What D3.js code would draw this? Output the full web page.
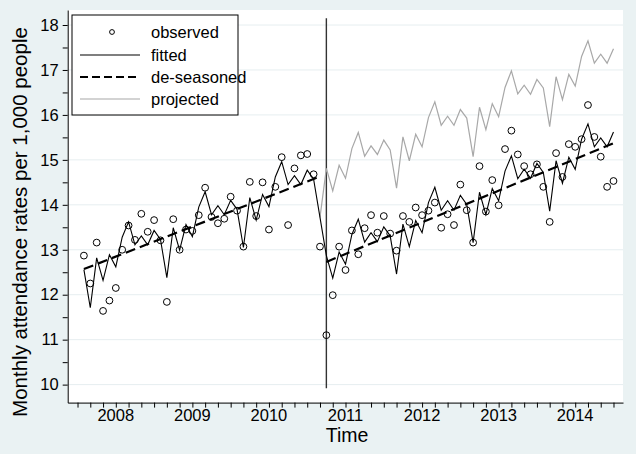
<!DOCTYPE html>
<html><head><meta charset="utf-8">
<script src="https://cdn.jsdelivr.net/npm/d3@7"></script>
<style>
body{margin:0;background:#eaf2f3;}
svg{display:block;font-family:"Liberation Sans",Arial,sans-serif;}
</style>
</head><body>
<svg id="chart" width="636" height="454"></svg>
<script>
// ---------- DATA ----------
const months = ["2007-08","2007-09","2007-10","2007-11","2007-12",
"2008-01","2008-02","2008-03","2008-04","2008-05","2008-06","2008-07","2008-08","2008-09","2008-10","2008-11","2008-12",
"2009-01","2009-02","2009-03","2009-04","2009-05","2009-06","2009-07","2009-08","2009-09","2009-10","2009-11","2009-12",
"2010-01","2010-02","2010-03","2010-04","2010-05","2010-06","2010-07","2010-08","2010-09","2010-10","2010-11","2010-12",
"2011-01","2011-02","2011-03","2011-04","2011-05","2011-06","2011-07","2011-08","2011-09","2011-10","2011-11","2011-12",
"2012-01","2012-02","2012-03","2012-04","2012-05","2012-06","2012-07","2012-08","2012-09","2012-10","2012-11","2012-12",
"2013-01","2013-02","2013-03","2013-04","2013-05","2013-06","2013-07","2013-08","2013-09","2013-10","2013-11","2013-12",
"2014-01","2014-02","2014-03","2014-04","2014-05","2014-06","2014-07"];

const observed = [12.87,12.25,13.16,11.64,11.87,
12.15,13.00,13.54,13.22,13.80,13.40,13.66,13.21,11.84,13.68,13.00,13.45,
13.42,13.77,14.38,13.73,13.59,13.69,14.18,13.87,13.07,14.51,13.75,14.50,
13.45,14.40,15.06,13.55,14.81,15.10,15.13,14.68,13.07,11.10,11.99,13.07,
12.55,13.43,12.90,13.48,13.77,13.38,13.75,13.36,12.98,13.75,13.62,13.94,
13.77,13.87,14.05,13.49,13.79,13.55,14.45,13.88,13.16,14.86,13.85,14.55,
13.99,15.24,15.65,15.12,14.86,14.68,14.90,14.40,13.62,15.15,14.62,15.35,
15.29,15.46,16.22,15.51,15.07,14.40,14.53];

const fitted = [12.56,11.71,12.82,12.32,12.89,
12.62,13.28,13.62,13.11,13.31,13.11,13.43,13.23,12.38,13.49,12.99,13.56,
13.29,13.95,14.29,13.78,13.98,13.78,14.10,13.90,13.05,14.16,13.66,14.23,
13.96,14.62,14.96,14.45,14.65,14.45,14.77,14.57,13.72,12.87,12.37,12.95,
12.68,13.34,13.68,13.17,13.38,13.18,13.51,13.31,12.46,13.57,13.07,13.65,
13.38,14.05,14.39,13.88,14.09,13.88,14.21,14.01,13.16,14.28,13.78,14.36,
14.09,14.75,15.09,14.58,14.79,14.59,14.92,14.72,13.86,14.98,14.48,15.06,
14.79,15.46,15.80,15.29,15.49,15.29,15.62];

// projected series starts at 2010-09
const projectedStart = "2010-09";
const projected = [13.72,14.81,14.31,14.88,14.59,15.25,15.61,15.08,15.31,15.12,15.44,15.22,14.37,
15.51,14.98,15.57,15.29,15.94,16.29,15.77,15.97,15.77,16.12,15.93,15.07,16.17,15.67,16.25,
15.96,16.61,16.98,16.47,16.66,16.46,16.79,16.60,15.74,16.85,16.34,16.90,
16.64,17.30,17.65,17.15,17.35,17.15,17.47];

// de-seasoned trend segments (before / after intervention)
const deseasonedPreMonths = ["2007-08","2010-09"];
const deseasonedPre = [12.57,14.63];
const deseasonedPostMonths = ["2010-10","2014-07"];
const deseasonedPost = [12.73,15.37];

const interventionMonth = "2010-10";
const yTicks = [10,11,12,13,14,15,16,17,18];
const yearLabels = ["2008","2009","2010","2011","2012","2013","2014"];
const legendLabels = ["observed","fitted","de-seasoned","projected"];

// ---------- CHART ----------
const svg = d3.select("#chart");
const P = {left:67.7, right:623, top:10, bottom:402.6};
const mIdx = s => { const [yy,mm] = s.split("-").map(Number); return (yy-2007)*12 + (mm-7); };
const x = d3.scaleLinear().domain([-1.54, 85.49]).range([P.left, P.right]);
const y = d3.scaleLinear().domain([9.6, 18.334]).range([P.bottom, P.top]);

svg.append("rect").attr("width",636).attr("height",454).attr("fill","#eaf2f3");
svg.append("rect").attr("x",P.left).attr("y",P.top).attr("width",P.right-P.left).attr("height",P.bottom-P.top).attr("fill","#ffffff");

// grid
svg.append("g").selectAll("line").data(yTicks).join("line")
  .attr("x1",P.left).attr("x2",P.right)
  .attr("y1",d=>y(d)).attr("y2",d=>y(d))
  .attr("stroke","#e6eef0").attr("stroke-width",1);

// y axis
const yAll = d3.range(10,18.01,0.5);
const yAxis = svg.append("g").attr("transform",`translate(${P.left},0)`)
  .call(d3.axisLeft(y).tickValues(yAll).tickSize(5).tickSizeOuter(0).tickPadding(4)
    .tickFormat(d => yTicks.includes(d) ? String(d) : ""));
yAxis.select(".domain").attr("stroke","#000");
yAxis.selectAll(".tick line").attr("stroke","#000");
yAxis.selectAll("text").attr("font-size","16.5px").attr("fill","#000")
  .attr("font-family","'Liberation Sans',Arial,sans-serif");

// x axis
const xTickVals = d3.range(0,85,2);
const yearIdx = yearLabels.map(l => mIdx(l+"-01"));
const xAxis = svg.append("g").attr("transform",`translate(0,${P.bottom})`)
  .call(d3.axisBottom(x).tickValues(xTickVals).tickSize(5).tickSizeOuter(0).tickFormat(""));
xAxis.select(".domain").attr("stroke","#000");
xAxis.selectAll(".tick line").attr("stroke","#000");
svg.append("g").selectAll("text").data(yearLabels).join("text")
  .attr("x",(d,i)=>x(yearIdx[i])).attr("y",421)
  .attr("text-anchor","middle").attr("font-size","16.5px").attr("fill","#000").text(d=>d);

// axis titles
svg.append("text").attr("x",347).attr("y",442).attr("text-anchor","middle")
  .attr("font-size","19.5px").attr("fill","#000").text("Time");
svg.append("text").attr("transform",`translate(27,222) rotate(-90)`)
  .attr("text-anchor","middle").attr("font-size","20.5px").attr("fill","#000")
  .text("Monthly attendance rates per 1,000 people");

// intervention line
svg.append("line").attr("x1",x(mIdx(interventionMonth))).attr("x2",x(mIdx(interventionMonth)))
  .attr("y1",y(18.15)).attr("y2",y(9.92)).attr("stroke","#333").attr("stroke-width",1.4);

// projected
const line = d3.line().x(d=>x(d[0])).y(d=>y(d[1]));
const p0 = mIdx(projectedStart);
svg.append("path").datum(projected.map((v,i)=>[p0+i,v]))
  .attr("d",line).attr("fill","none").attr("stroke","#a8a8a8").attr("stroke-width",1.2);

// fitted
svg.append("path").datum(fitted.map((v,i)=>[mIdx(months[i]),v]))
  .attr("d",line).attr("fill","none").attr("stroke","#000").attr("stroke-width",1.1);

// de-seasoned
[[deseasonedPreMonths,deseasonedPre],[deseasonedPostMonths,deseasonedPost]].forEach(([ms,vs])=>{
  svg.append("path").datum(vs.map((v,i)=>[mIdx(ms[i]),v]))
    .attr("d",line).attr("fill","none").attr("stroke","#000").attr("stroke-width",2.2)
    .attr("stroke-dasharray","10,5");
});

// observed
svg.append("g").selectAll("circle").data(observed).join("circle")
  .attr("cx",(d,i)=>x(mIdx(months[i]))).attr("cy",d=>y(d)).attr("r",3.4)
  .attr("fill","none").attr("stroke","#000").attr("stroke-width",1);

// legend
const lg = svg.append("g");
lg.append("rect").attr("x",72).attr("y",15).attr("width",166).attr("height",100)
  .attr("fill","#fff").attr("stroke","#000").attr("stroke-width",1);
const rowY = [32,55,77,99];
lg.append("circle").attr("cx",112).attr("cy",rowY[0]).attr("r",2.4).attr("fill","none").attr("stroke","#000");
lg.append("line").attr("x1",80).attr("x2",140).attr("y1",rowY[1]).attr("y2",rowY[1]).attr("stroke","#000").attr("stroke-width",1.1);
lg.append("line").attr("x1",80).attr("x2",140).attr("y1",rowY[2]).attr("y2",rowY[2]).attr("stroke","#000").attr("stroke-width",2.2).attr("stroke-dasharray","8,4");
lg.append("line").attr("x1",80).attr("x2",140).attr("y1",rowY[3]).attr("y2",rowY[3]).attr("stroke","#a8a8a8").attr("stroke-width",1.2);
lg.selectAll("text").data(legendLabels).join("text")
  .attr("x",151).attr("y",(d,i)=>rowY[i]+6).attr("font-size","16.5px").attr("fill","#000").text(d=>d);
</script>
</body></html>
